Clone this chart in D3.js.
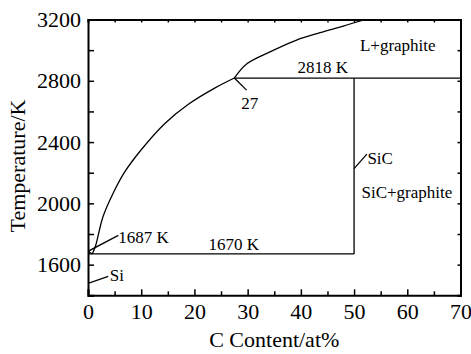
<!DOCTYPE html>
<html>
<head>
<meta charset='UTF-8'>
<title>Si-C phase diagram</title>
<script src='https://d3js.org/d3.v7.min.js'></script>
<style>
  body { margin: 0; background: #fff; }
</style>
</head>
<body>
<div id='graph'></div>
<script>
// axis ticks
var xTicks = [0, 10, 20, 30, 40, 50, 60, 70];
var yTicks = [1600, 2000, 2400, 2800, 3200];

// liquidus, Si side up to the eutectic (at%, K)
var liqLeftX = [0.8, 1.4, 2.8, 4.7, 6.9, 10, 14.4, 18.8, 23.8, 27.5];
var liqLeftT = [1670, 1720, 1911, 2064, 2205, 2350, 2520, 2645, 2752, 2818];
// liquidus above the peritectic
var liqRightX = [27.5, 29.8, 34.2, 39.2, 43.6, 48.0, 52.1];
var liqRightT = [2818, 2910, 2989, 3066, 3114, 3157, 3200];

// invariant lines
var siMelt = 1687, eutT = 1670, periT = 2818, sicX = 50;

// labels: text, x, T, anchor
var labels = [
  ['L+graphite', 51.1, 2996, 'start'],
  ['2818 K', 44.1, 2852, 'middle'],
  ['27', 30.4, 2619, 'middle'],
  ['SiC', 52.5, 2256, 'start'],
  ['SiC+graphite', 51.4, 2035, 'start'],
  ['1687 K', 5.7, 1741, 'start'],
  ['1670 K', 27.4, 1693, 'middle'],
  ['Si', 4.1, 1491, 'start']
];
// leader lines [x1, T1, x2, T2]
var leaders = [
  [27.5, 2818, 29.8, 2739],
  [0, 1687, 5.7, 1791],
  [0, 1478, 3.8, 1523],
  [50, 2227, 52.4, 2321]
];

var W = 471, H = 354;
var margin = {top: 19.5, right: 10.5, bottom: 58.7, left: 88};
var serif = 'Liberation Serif';

var svg = d3.select('#graph').append('svg')
    .attr('width', W).attr('height', H);

var x = d3.scaleLinear().domain([0, 70]).range([margin.left, W - margin.right]);
var y = d3.scaleLinear().domain([1400, 3200]).range([H - margin.bottom, margin.top]);

svg.append('clipPath').attr('id', 'clip').append('rect')
   .attr('x', x(0)).attr('y', y(3200))
   .attr('width', x(70) - x(0)).attr('height', y(1400) - y(3200));

var plot = svg.append('g').attr('clip-path', 'url(#clip)');
var line = d3.line().x(d => x(d[0])).y(d => y(d[1]));
var curve = d3.line().x(d => x(d[0])).y(d => y(d[1])).curve(d3.curveCatmullRom.alpha(0.5));

plot.append('path')
    .datum([[0, siMelt], [liqLeftX[0], liqLeftT[0]]])
    .attr('d', line).attr('fill', 'none').attr('stroke', '#000').attr('stroke-width', 1.3);
plot.append('path')
    .datum(liqLeftX.map((v, i) => [v, liqLeftT[i]]))
    .attr('d', curve).attr('fill', 'none')
    .attr('stroke', '#000').attr('stroke-width', 1.3);
plot.append('path')
    .datum(liqRightX.map((v, i) => [v, liqRightT[i]]))
    .attr('d', curve).attr('fill', 'none')
    .attr('stroke', '#000').attr('stroke-width', 1.3);

var segs = [
  [0, eutT, sicX, eutT],
  [liqRightX[0], periT, 70, periT],
  [sicX, eutT, sicX, periT]
].concat(leaders);

plot.selectAll('line.seg')
    .data(segs).enter().append('line')
    .attr('x1', d => x(d[0])).attr('y1', d => y(d[1]))
    .attr('x2', d => x(d[2])).attr('y2', d => y(d[3]))
    .attr('stroke', '#000').attr('stroke-width', 1.3);

svg.selectAll('text.lab')
   .data(labels).enter().append('text')
   .attr('x', d => x(d[1])).attr('y', d => y(d[2]))
   .attr('text-anchor', d => d[3])
   .style('font-size', '17px')
   .text(d => d[0]);

// axes, ticks inside
var bottom = svg.append('g')
    .attr('transform', 'translate(0,' + y(1400) + ')')
    .call(d3.axisBottom(x).tickValues(d3.range(0, 71, 5)).tickSize(-6).tickFormat(''));
bottom.selectAll('.tick line').filter(d => d % 10 != 0).attr('y2', -4);
svg.append('g')
    .attr('transform', 'translate(0,' + y(1400) + ')')
    .call(d3.axisBottom(x).tickValues(xTicks).tickSize(0).tickPadding(8).tickFormat(d3.format('d')))
    .call(g => g.select('.domain').remove())
    .selectAll('text').style('font-size', '22px').attr('dy', '0.71em');

svg.append('g')
    .attr('transform', 'translate(' + x(0) + ',0)')
    .call(d3.axisLeft(y).tickValues(d3.range(1400, 3201, 200)).tickSize(-6).tickFormat(''));
svg.append('g')
    .attr('transform', 'translate(' + x(0) + ',0)')
    .call(d3.axisLeft(y).tickValues(yTicks).tickSize(0).tickPadding(7).tickFormat(d3.format('d')))
    .call(g => g.select('.domain').remove())
    .selectAll('text').style('font-size', '22px');

svg.append('g')
    .attr('transform', 'translate(0,' + y(3200) + ')')
    .call(d3.axisTop(x).tickValues(d3.range(0, 71, 5)).tickSize(-3).tickFormat(''));
svg.append('g')
    .attr('transform', 'translate(' + x(70) + ',0)')
    .call(d3.axisRight(y).tickValues(d3.range(1400, 3201, 200)).tickSize(-3).tickFormat(''));

svg.selectAll('.domain').attr('stroke-width', 2);
svg.selectAll('.tick line').attr('stroke-width', 1.5);

svg.append('text')
   .attr('x', (x(0) + x(70)) / 2).attr('y', 347)
   .attr('text-anchor', 'middle')
   .style('font-size', '22px')
   .text('C Content/at%');

svg.append('text')
   .attr('transform', 'translate(25,166) rotate(-90)')
   .attr('text-anchor', 'middle')
   .style('font-size', '22px')
   .text('Temperature/K');

svg.selectAll('g').attr('font-family', null);
svg.selectAll('text').style('font-family', serif).attr('fill', '#000');
</script>
</body>
</html>
